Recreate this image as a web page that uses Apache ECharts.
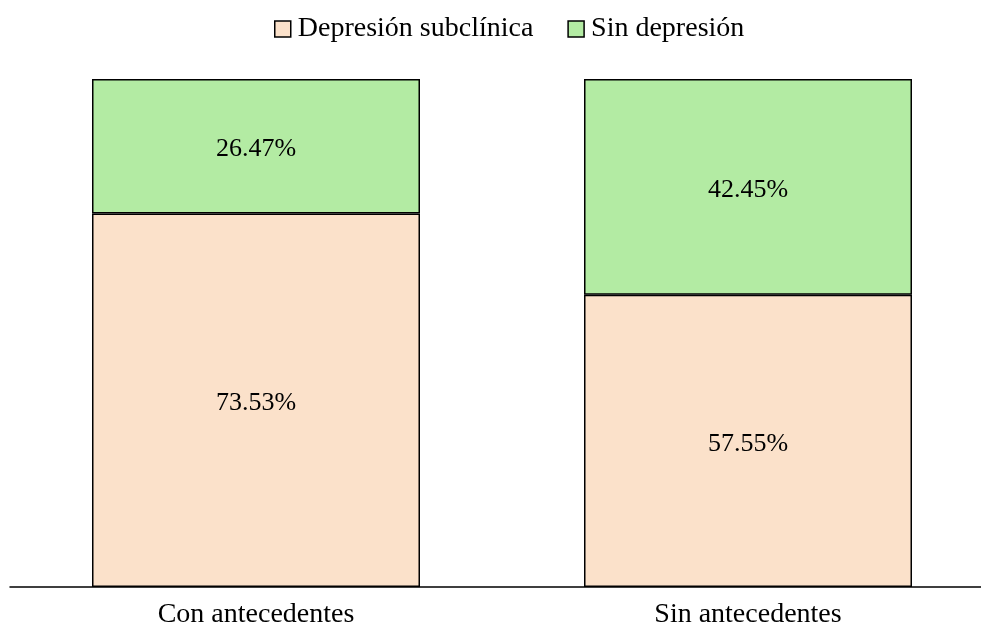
<!DOCTYPE html>
<html><head><meta charset="utf-8">
<script src="https://cdn.jsdelivr.net/npm/echarts@6/dist/echarts.min.js"></script>
<style>html,body{margin:0;padding:0;background:#fff}#c{width:981px;height:634px}</style>
</head><body><div id="c"></div>
<script>
const categories = ["Con antecedentes", "Sin antecedentes"];
const subclinica = [73.53, 57.55];
const sinDepresion = [26.47, 42.45];
const seriesNames = ["Depresión subclínica", "Sin depresión"];

const font = "'Liberation Serif', 'Times New Roman', serif";
const chart = echarts.init(document.getElementById('c'));
const lbl = {show:true, position:'inside', offset:[0,3], color:'#000', fontFamily:font, fontSize:26, formatter: p => p.value.toFixed(2) + '%'};
chart.setOption({
  animation:false,
  legend:{top:10, left:269, itemWidth:16, itemHeight:16, itemGap:34, icon:'rect',
    itemStyle:{borderColor:'#000', borderWidth:1.5},
    textStyle:{fontFamily:font, fontSize:28, color:'#000', padding:[0,0,0,2]}},
  grid:{left:10, right:-13, top:79, bottom:47, containLabel:false, outerBoundsMode:'none'},
  xAxis:{type:'category', data:categories, axisLine:{lineStyle:{color:'#000', width:1.5}}, axisTick:{show:false},
    axisLabel:{fontFamily:font, fontSize:28, color:'#000', margin:14}},
  yAxis:{type:'value', min:0, max:100, show:false},
  series:[
    {name:seriesNames[0], type:'bar', stack:'a', data:subclinica, barWidth:328,
      itemStyle:{color:'#FBE1CA', borderColor:'#000', borderWidth:1.5}, label:lbl},
    {name:seriesNames[1], type:'bar', stack:'a', data:sinDepresion, barWidth:328,
      itemStyle:{color:'#B3EBA3', borderColor:'#000', borderWidth:1.5}, label:lbl}
  ]
});
</script></body></html>
